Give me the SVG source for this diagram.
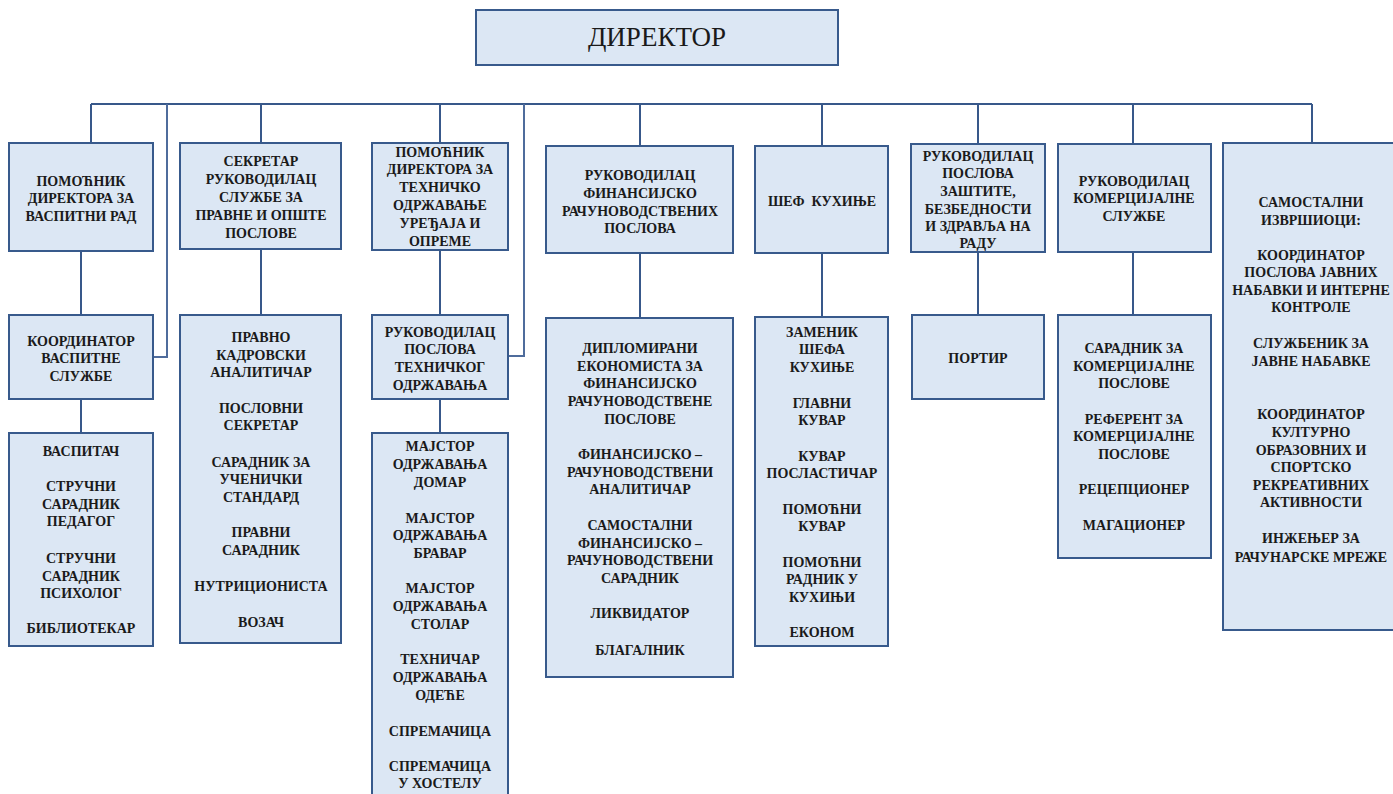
<svg xmlns="http://www.w3.org/2000/svg" width="1393" height="794" viewBox="0 0 1393 794">
<style>
.box{fill:#dce7f4;stroke:#385a8c;stroke-width:2}
.t{font-family:"Liberation Serif","Times New Roman",serif;font-weight:bold;font-size:14px;fill:#1a1a1a;text-anchor:middle}
.big{font-family:"Liberation Serif","Times New Roman",serif;font-size:27px;fill:#1a1a1a;text-anchor:middle}
.ln{fill:none;stroke:#38588a;stroke-width:2}
.ln2{fill:none;stroke:#4f6c9c;stroke-width:2}
</style>
<rect width="1393" height="794" fill="#ffffff"/>
<g id="connectors">
<path class="ln" d="M91,104 H1312"/>
<path class="ln" d="M91,104 V143 M261,104 V143 M440,104 V143 M640,104 V146 M822,104 V146 M978,104 V144 M1133,104 V144 M1312,104 V143"/>
<path class="ln2" d="M167,104 V357 H153 M524,104 V356 H508"/>
<path class="ln" d="M81,251 V315 M81,399 V433 M261,249 V315 M440,250 V315 M440,399 V433 M640,253 V318 M822,253 V317 M978,252 V315 M1133,252 V315"/>
</g>
<g id="director">
<rect class="box" x="476" y="10" width="362" height="55"/>
<text class="big" x="657" y="46">ДИРЕКТОР</text>
</g>
<g id="n1">
<rect class="box" x="9" y="143" width="144" height="108"/>
<text class="t"><tspan x="81" y="185.5">ПОМОЋНИК</tspan><tspan x="81" y="202.5">ДИРЕКТОРА ЗА</tspan><tspan x="81" y="220.5">ВАСПИТНИ РАД</tspan></text>
</g>
<g id="n2">
<rect class="box" x="180" y="143" width="161" height="106"/>
<text class="t"><tspan x="261" y="165.5">СЕКРЕТАР</tspan><tspan x="261" y="183.5">РУКОВОДИЛАЦ</tspan><tspan x="261" y="201.5">СЛУЖБЕ ЗА</tspan><tspan x="261" y="219.5">ПРАВНЕ И ОПШТЕ</tspan><tspan x="261" y="237.5">ПОСЛОВЕ</tspan></text>
</g>
<g id="n3">
<rect class="box" x="372" y="143" width="136" height="107"/>
<text class="t"><tspan x="440" y="156.5">ПОМОЋНИК</tspan><tspan x="440" y="174.3">ДИРЕКТОРА ЗА</tspan><tspan x="440" y="192.1">ТЕХНИЧКО</tspan><tspan x="440" y="209.9">ОДРЖАВАЊЕ</tspan><tspan x="440" y="227.7">УРЕЂАЈА И</tspan><tspan x="440" y="245.5">ОПРЕМЕ</tspan></text>
</g>
<g id="n4">
<rect class="box" x="546" y="146" width="187" height="107"/>
<text class="t"><tspan x="640" y="179.5">РУКОВОДИЛАЦ</tspan><tspan x="640" y="197.5">ФИНАНСИЈСКО</tspan><tspan x="640" y="215.5">РАЧУНОВОДСТВЕНИХ</tspan><tspan x="640" y="232.5">ПОСЛОВА</tspan></text>
</g>
<g id="n5">
<rect class="box" x="755" y="146" width="133" height="107"/>
<text class="t"><tspan x="822" y="205.5">ШЕФ&#160; КУХИЊЕ</tspan></text>
</g>
<g id="n6">
<rect class="box" x="911" y="144" width="134" height="108"/>
<text class="t"><tspan x="978" y="160.5">РУКОВОДИЛАЦ</tspan><tspan x="978" y="177.5">ПОСЛОВА</tspan><tspan x="978" y="195.5">ЗАШТИТЕ,</tspan><tspan x="978" y="213.5">БЕЗБЕДНОСТИ</tspan><tspan x="978" y="230.5">И ЗДРАВЉА НА</tspan><tspan x="978" y="247.5">РАДУ</tspan></text>
</g>
<g id="n7">
<rect class="box" x="1058" y="144" width="153" height="108"/>
<text class="t"><tspan x="1134" y="185.5">РУКОВОДИЛАЦ</tspan><tspan x="1134" y="202.5">КОМЕРЦИЈАЛНЕ</tspan><tspan x="1134" y="220.5">СЛУЖБЕ</tspan></text>
</g>
<g id="n8">
<rect class="box" x="1223" y="143" width="180" height="487"/>
<text class="t"><tspan x="1311" y="206.5">САМОСТАЛНИ</tspan><tspan x="1311" y="224.5">ИЗВРШИОЦИ:</tspan><tspan x="1311" y="259.5">КООРДИНАТОР</tspan><tspan x="1311" y="277">ПОСЛОВА ЈАВНИХ</tspan><tspan x="1311" y="294.5">НАБАВКИ И ИНТЕРНЕ</tspan><tspan x="1311" y="311.5">КОНТРОЛЕ</tspan><tspan x="1311" y="347.5">СЛУЖБЕНИК ЗА</tspan><tspan x="1311" y="365.5">ЈАВНЕ НАБАВКЕ</tspan><tspan x="1311" y="418.5">КООРДИНАТОР</tspan><tspan x="1311" y="436.5">КУЛТУРНО</tspan><tspan x="1311" y="454.5">ОБРАЗОВНИХ И</tspan><tspan x="1311" y="471.5">СПОРТСКО</tspan><tspan x="1311" y="489.5">РЕКРЕАТИВНИХ</tspan><tspan x="1311" y="506.5">АКТИВНОСТИ</tspan><tspan x="1311" y="542.5">ИНЖЕЊЕР ЗА</tspan><tspan x="1311" y="561.5">РАЧУНАРСКЕ МРЕЖЕ</tspan></text>
</g>
<g id="n1b">
<rect class="box" x="9" y="315" width="144" height="84"/>
<text class="t"><tspan x="81" y="345.5">КООРДИНАТОР</tspan><tspan x="81" y="362.5">ВАСПИТНЕ</tspan><tspan x="81" y="380.5">СЛУЖБЕ</tspan></text>
</g>
<g id="n1c">
<rect class="box" x="9" y="433" width="144" height="213"/>
<text class="t"><tspan x="81" y="455.5">ВАСПИТАЧ</tspan><tspan x="81" y="490.5">СТРУЧНИ</tspan><tspan x="81" y="508.5">САРАДНИК</tspan><tspan x="81" y="525.5">ПЕДАГОГ</tspan><tspan x="81" y="562.5">СТРУЧНИ</tspan><tspan x="81" y="580.5">САРАДНИК</tspan><tspan x="81" y="597.5">ПСИХОЛОГ</tspan><tspan x="81" y="632.5">БИБЛИОТЕКАР</tspan></text>
</g>
<g id="n2b">
<rect class="box" x="180" y="315" width="161" height="328"/>
<text class="t"><tspan x="261" y="341.5">ПРАВНО</tspan><tspan x="261" y="359.5">КАДРОВСКИ</tspan><tspan x="261" y="376.5">АНАЛИТИЧАР</tspan><tspan x="261" y="412.5">ПОСЛОВНИ</tspan><tspan x="261" y="429.5">СЕКРЕТАР</tspan><tspan x="261" y="466.5">САРАДНИК ЗА</tspan><tspan x="261" y="483.5">УЧЕНИЧКИ</tspan><tspan x="261" y="501.5">СТАНДАРД</tspan><tspan x="261" y="536.5">ПРАВНИ</tspan><tspan x="261" y="554.5">САРАДНИК</tspan><tspan x="261" y="590.5">НУТРИЦИОНИСТА</tspan><tspan x="261" y="626.5">ВОЗАЧ</tspan></text>
</g>
<g id="n3b">
<rect class="box" x="372" y="315" width="136" height="84"/>
<text class="t"><tspan x="440" y="336.5">РУКОВОДИЛАЦ</tspan><tspan x="440" y="353.5">ПОСЛОВА</tspan><tspan x="440" y="371.5">ТЕХНИЧКОГ</tspan><tspan x="440" y="389.5">ОДРЖАВАЊА</tspan></text>
</g>
<g id="n3c">
<rect class="box" x="372" y="433" width="136" height="370"/>
<text class="t"><tspan x="440" y="450.5">МАЈСТОР</tspan><tspan x="440" y="468.5">ОДРЖАВАЊА</tspan><tspan x="440" y="486.5">ДОМАР</tspan><tspan x="440" y="522.5">МАЈСТОР</tspan><tspan x="440" y="539.5">ОДРЖАВАЊА</tspan><tspan x="440" y="557.5">БРАВАР</tspan><tspan x="440" y="593">МАЈСТОР</tspan><tspan x="440" y="611">ОДРЖАВАЊА</tspan><tspan x="440" y="628.5">СТОЛАР</tspan><tspan x="440" y="663.5">ТЕХНИЧАР</tspan><tspan x="440" y="681.5">ОДРЖАВАЊА</tspan><tspan x="440" y="699.5">ОДЕЋЕ</tspan><tspan x="440" y="735.5">СПРЕМАЧИЦА</tspan><tspan x="440" y="770.5">СПРЕМАЧИЦА</tspan><tspan x="440" y="787.5">У ХОСТЕЛУ</tspan></text>
</g>
<g id="n4b">
<rect class="box" x="546" y="318" width="187" height="359"/>
<text class="t"><tspan x="640" y="352.5">ДИПЛОМИРАНИ</tspan><tspan x="640" y="370.5">ЕКОНОМИСТА ЗА</tspan><tspan x="640" y="387.5">ФИНАНСИЈСКО</tspan><tspan x="640" y="405.5">РАЧУНОВОДСТВЕНЕ</tspan><tspan x="640" y="423.5">ПОСЛОВЕ</tspan><tspan x="640" y="458.5">ФИНАНСИЈСКО –</tspan><tspan x="640" y="476.5">РАЧУНОВОДСТВЕНИ</tspan><tspan x="640" y="493.5">АНАЛИТИЧАР</tspan><tspan x="640" y="529.5">САМОСТАЛНИ</tspan><tspan x="640" y="547.5">ФИНАНСИЈСКО –</tspan><tspan x="640" y="564.5">РАЧУНОВОДСТВЕНИ</tspan><tspan x="640" y="582.5">САРАДНИК</tspan><tspan x="640" y="617.5">ЛИКВИДАТОР</tspan><tspan x="640" y="654.5">БЛАГАЛНИК</tspan></text>
</g>
<g id="n5b">
<rect class="box" x="755" y="317" width="133" height="329"/>
<text class="t"><tspan x="822" y="336.5">ЗАМЕНИК</tspan><tspan x="822" y="353.5">ШЕФА</tspan><tspan x="822" y="371.5">КУХИЊЕ</tspan><tspan x="822" y="407.5">ГЛАВНИ</tspan><tspan x="822" y="424.5">КУВАР</tspan><tspan x="822" y="460.5">КУВАР</tspan><tspan x="822" y="477.5">ПОСЛАСТИЧАР</tspan><tspan x="822" y="513.5">ПОМОЋНИ</tspan><tspan x="822" y="530.5">КУВАР</tspan><tspan x="822" y="566.5">ПОМОЋНИ</tspan><tspan x="822" y="583.5">РАДНИК У</tspan><tspan x="822" y="601.5">КУХИЊИ</tspan><tspan x="822" y="636.5">ЕКОНОМ</tspan></text>
</g>
<g id="n6b">
<rect class="box" x="912" y="315" width="132" height="84"/>
<text class="t"><tspan x="978" y="362.5">ПОРТИР</tspan></text>
</g>
<g id="n7b">
<rect class="box" x="1058" y="315" width="153" height="243"/>
<text class="t"><tspan x="1134" y="352.5">САРАДНИК ЗА</tspan><tspan x="1134" y="370.5">КОМЕРЦИЈАЛНЕ</tspan><tspan x="1134" y="387.5">ПОСЛОВЕ</tspan><tspan x="1134" y="423.5">РЕФЕРЕНТ ЗА</tspan><tspan x="1134" y="440.5">КОМЕРЦИЈАЛНЕ</tspan><tspan x="1134" y="458.5">ПОСЛОВЕ</tspan><tspan x="1134" y="493.5">РЕЦЕПЦИОНЕР</tspan><tspan x="1134" y="529.5">МАГАЦИОНЕР</tspan></text>
</g>
</svg>
